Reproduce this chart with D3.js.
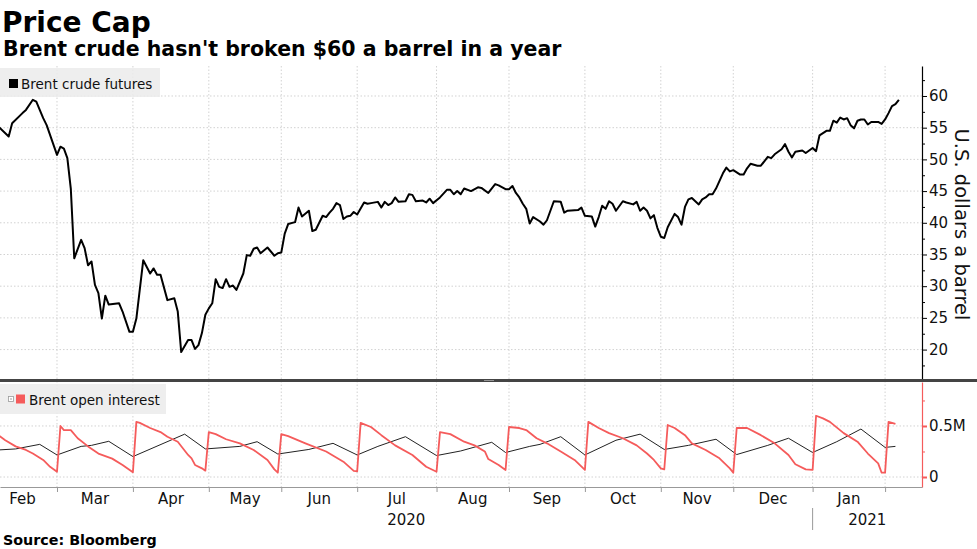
<!DOCTYPE html>
<html>
<head>
<meta charset="utf-8">
<script src="https://cdn.jsdelivr.net/npm/d3@7"></script>
<style>
  body { margin: 0; background: #fff; }
  svg { display: block; font-family: "DejaVu Sans", sans-serif; }
</style>
</head>
<body>
<div id="chart"></div>
<script>
// Brent crude futures, U.S. dollars a barrel
const brentPrice = [
  ["2020-02-06",55.2],["2020-02-11",53.6],["2020-02-12",55.7],["2020-02-17",57.3],["2020-02-18",57.8],
  ["2020-02-20",59.4],["2020-02-21",59.1],["2020-02-25",56.5],["2020-02-26",55.4],["2020-03-02",50.7],
  ["2020-03-03",52.0],["2020-03-04",51.7],["2020-03-05",50.2],["2020-03-06",45.4],["2020-03-09",34.4],
  ["2020-03-11",37.3],["2020-03-12",36.0],["2020-03-13",33.3],["2020-03-16",33.9],["2020-03-17",30.2],
  ["2020-03-18",28.9],["2020-03-19",24.9],["2020-03-20",28.5],["2020-03-23",27.1],["2020-03-26",27.3],
  ["2020-03-27",26.0],["2020-03-31",22.8],["2020-04-01",22.8],["2020-04-02",24.9],["2020-04-06",34.1],
  ["2020-04-08",32.0],["2020-04-09",32.8],["2020-04-10",31.8],["2020-04-13",31.8],["2020-04-15",27.8],
  ["2020-04-17",28.1],["2020-04-20",26.0],["2020-04-21",19.6],["2020-04-23",21.5],["2020-04-24",21.5],
  ["2020-04-27",20.1],["2020-04-28",20.7],["2020-04-29",22.6],["2020-04-30",25.5],["2020-05-01",26.5],
  ["2020-05-04",27.3],["2020-05-05",31.1],["2020-05-06",29.9],["2020-05-07",29.7],["2020-05-08",31.1],
  ["2020-05-11",29.9],["2020-05-12",30.1],["2020-05-13",29.4],["2020-05-15",32.0],["2020-05-18",34.9],
  ["2020-05-19",34.8],["2020-05-20",35.9],["2020-05-21",36.1],["2020-05-22",35.2],["2020-05-26",36.1],
  ["2020-05-28",34.8],["2020-05-29",35.2],["2020-06-01",35.3],["2020-06-02",38.3],["2020-06-03",39.8],
  ["2020-06-05",40.1],["2020-06-08",42.4],["2020-06-09",41.0],["2020-06-11",41.9],["2020-06-12",38.7],
  ["2020-06-15",38.9],["2020-06-17",41.1],["2020-06-18",40.9],["2020-06-19",41.6],["2020-06-22",42.2],
  ["2020-06-23",43.1],["2020-06-24",42.8],["2020-06-25",40.6],["2020-06-26",41.0],["2020-06-29",41.1],
  ["2020-06-30",41.7],["2020-07-01",41.3],["2020-07-03",43.2],["2020-07-06",43.0],["2020-07-07",43.1],
  ["2020-07-09",43.3],["2020-07-10",42.4],["2020-07-13",43.3],["2020-07-14",42.8],["2020-07-15",43.1],
  ["2020-07-16",44.0],["2020-07-17",43.3],["2020-07-21",43.4],["2020-07-22",44.5],["2020-07-23",44.4],
  ["2020-07-24",43.4],["2020-07-28",43.5],["2020-07-29",43.2],["2020-07-30",43.8],["2020-07-31",43.1],
  ["2020-08-04",44.0],["2020-08-06",45.2],["2020-08-07",45.2],["2020-08-10",44.5],["2020-08-11",45.0],
  ["2020-08-12",44.5],["2020-08-13",45.4],["2020-08-17",45.0],["2020-08-19",45.6],["2020-08-20",45.5],
  ["2020-08-24",44.7],["2020-08-26",46.1],["2020-08-27",45.9],["2020-08-31",45.3],["2020-09-01",45.3],
  ["2020-09-02",45.8],["2020-09-03",44.7],["2020-09-04",44.0],["2020-09-07",43.0],["2020-09-08",42.2],
  ["2020-09-09",39.9],["2020-09-10",40.9],["2020-09-14",40.2],["2020-09-15",39.7],["2020-09-16",40.4],
  ["2020-09-18",43.4],["2020-09-22",43.3],["2020-09-23",41.6],["2020-09-24",41.9],["2020-09-29",42.0],
  ["2020-09-30",42.4],["2020-10-01",41.1],["2020-10-05",41.0],["2020-10-06",39.4],["2020-10-07",40.9],
  ["2020-10-08",42.7],["2020-10-09",42.2],["2020-10-12",43.4],["2020-10-13",43.0],["2020-10-14",41.9],
  ["2020-10-16",43.4],["2020-10-19",43.2],["2020-10-21",42.9],["2020-10-22",43.3],["2020-10-23",41.9],
  ["2020-10-26",42.4],["2020-10-27",41.9],["2020-10-28",40.7],["2020-10-29",41.2],["2020-10-30",39.2],
  ["2020-11-02",37.8],["2020-11-03",37.6],["2020-11-04",39.3],["2020-11-06",41.4],["2020-11-09",40.9],
  ["2020-11-10",39.7],["2020-11-11",42.5],["2020-11-12",43.7],["2020-11-13",43.9],["2020-11-17",42.9],
  ["2020-11-18",43.7],["2020-11-19",44.0],["2020-11-20",44.5],["2020-11-23",44.5],["2020-11-24",45.4],
  ["2020-11-26",47.8],["2020-11-27",48.7],["2020-11-30",48.1],["2020-12-01",48.3],["2020-12-03",47.6],
  ["2020-12-04",47.6],["2020-12-07",48.6],["2020-12-08",49.3],["2020-12-10",49.0],["2020-12-11",49.0],
  ["2020-12-15",50.4],["2020-12-16",50.2],["2020-12-17",50.8],["2020-12-21",51.6],["2020-12-22",52.4],
  ["2020-12-23",51.2],["2020-12-24",50.3],["2020-12-25",51.2],["2020-12-29",51.4],["2020-12-30",51.0],
  ["2021-01-01",51.8],["2021-01-04",51.3],["2021-01-05",53.8],["2021-01-07",54.5],["2021-01-08",54.5],
  ["2021-01-11",56.1],["2021-01-12",55.8],["2021-01-13",56.6],["2021-01-14",56.3],["2021-01-15",56.5],
  ["2021-01-18",55.4],["2021-01-19",54.9],["2021-01-20",56.1],["2021-01-21",56.3],["2021-01-22",56.3],
  ["2021-01-25",55.5],["2021-01-26",55.9],["2021-01-28",55.9],["2021-01-29",55.6],["2021-02-01",56.3],
  ["2021-02-02",57.3],["2021-02-03",58.4],["2021-02-04",58.7],["2021-02-05",59.4]
];

// Brent open interest, front contract (millions)
const openInterest = [
  ["2020-02-06",0.41],["2020-02-10",0.36],["2020-02-13",0.30],["2020-02-18",0.265],["2020-02-20",0.23],
  ["2020-02-25",0.167],["2020-02-27",0.10],["2020-03-02",0.052],["2020-03-03",0.50],["2020-03-04",0.46],
  ["2020-03-06",0.46],["2020-03-10",0.38],["2020-03-13",0.30],["2020-03-18",0.23],["2020-03-24",0.18],
  ["2020-03-27",0.118],["2020-04-01",0.046],["2020-04-02",0.54],["2020-04-03",0.53],["2020-04-08",0.48],
  ["2020-04-13",0.44],["2020-04-15",0.395],["2020-04-20",0.346],["2020-04-23",0.216],["2020-04-24",0.183],
  ["2020-04-27",0.118],["2020-04-29",0.085],["2020-04-30",0.062],["2020-05-01",0.44],["2020-05-05",0.42],
  ["2020-05-08",0.37],["2020-05-14",0.33],["2020-05-20",0.265],["2020-05-26",0.167],["2020-05-28",0.075],
  ["2020-05-29",0.042],["2020-06-01",0.42],["2020-06-03",0.40],["2020-06-10",0.33],["2020-06-18",0.25],
  ["2020-06-25",0.15],["2020-06-30",0.06],["2020-07-01",0.055],["2020-07-02",0.53],["2020-07-07",0.49],
  ["2020-07-10",0.41],["2020-07-16",0.31],["2020-07-23",0.216],["2020-07-29",0.10],["2020-08-03",0.052],
  ["2020-08-04",0.44],["2020-08-07",0.42],["2020-08-13",0.346],["2020-08-18",0.31],["2020-08-21",0.25],
  ["2020-08-24",0.176],["2020-08-27",0.118],["2020-08-31",0.069],["2020-09-01",0.49],["2020-09-04",0.48],
  ["2020-09-08",0.46],["2020-09-11",0.38],["2020-09-16",0.33],["2020-09-22",0.25],["2020-09-28",0.167],
  ["2020-10-01",0.069],["2020-10-02",0.54],["2020-10-07",0.48],["2020-10-12",0.43],["2020-10-16",0.38],
  ["2020-10-22",0.31],["2020-10-27",0.23],["2020-10-29",0.167],["2020-11-02",0.085],["2020-11-03",0.074],
  ["2020-11-04",0.51],["2020-11-06",0.48],["2020-11-11",0.41],["2020-11-13",0.33],["2020-11-19",0.265],
  ["2020-11-25",0.183],["2020-11-30",0.085],["2020-12-01",0.042],["2020-12-02",0.48],["2020-12-07",0.48],
  ["2020-12-11",0.41],["2020-12-17",0.33],["2020-12-23",0.216],["2020-12-25",0.125],["2020-12-30",0.075],
  ["2021-01-01",0.069],["2021-01-04",0.60],["2021-01-06",0.575],["2021-01-08",0.54],["2021-01-14",0.43],
  ["2021-01-20",0.346],["2021-01-25",0.23],["2021-01-28",0.134],["2021-01-29",0.042],["2021-02-01",0.042],
  ["2021-02-02",0.54],["2021-02-04",0.52]
];

// second (unlabelled) open interest series, drawn as the thin black line (millions)
const openInterestNext = [
  ["2020-02-06",0.265],["2020-02-13",0.275],["2020-02-24",0.32],["2020-03-02",0.216],["2020-03-11",0.30],
  ["2020-03-16",0.31],["2020-03-23",0.35],["2020-04-01",0.20],["2020-04-22",0.42],["2020-04-30",0.275],
  ["2020-05-14",0.30],["2020-05-21",0.346],["2020-05-29",0.225],["2020-06-11",0.27],["2020-06-22",0.33],
  ["2020-07-01",0.216],["2020-07-09",0.30],["2020-07-21",0.395],["2020-08-03",0.21],["2020-08-12",0.255],
  ["2020-08-25",0.34],["2020-08-31",0.24],["2020-09-09",0.30],["2020-09-14",0.32],["2020-09-22",0.395],
  ["2020-10-01",0.216],["2020-10-14",0.36],["2020-10-23",0.42],["2020-11-03",0.27],["2020-11-12",0.31],
  ["2020-11-24",0.37],["2020-12-02",0.22],["2020-12-15",0.31],["2020-12-23",0.38],["2021-01-01",0.24],
  ["2021-01-12",0.346],["2021-01-21",0.47],["2021-02-01",0.29],["2021-02-04",0.30]
];

const priceTicks = [20, 25, 30, 35, 40, 45, 50, 55, 60];
const priceMinorTicks = [17.5, 22.5, 27.5, 32.5, 37.5, 42.5, 47.5, 52.5, 57.5, 62.5];
const oiTicks = [0, 0.5];
const oiTickLabels = ["0", "0.5M"];
const oiMinorTicks = [0.25, 0.75];
const monthStarts = ["2020-02-01","2020-03-01","2020-04-01","2020-05-01","2020-06-01","2020-07-01",
  "2020-08-01","2020-09-01","2020-10-01","2020-11-01","2020-12-01","2021-01-01","2021-02-01","2021-03-01"];
const monthLabels = ["Feb","Mar","Apr","May","Jun","Jul","Aug","Sep","Oct","Nov","Dec","Jan"];
const yearLabels = [{ year: "2020", from: "2020-02-01", to: "2021-01-01" },
                    { year: "2021", from: "2021-01-01", to: "2021-03-01" }];

const W = 977, H = 549;
const plotRight = 922;
const top1 = 66, bot1 = 379, top2 = 382, bot2 = 487;
const red = "#f55b5b";

const parse = d3.utcParse("%Y-%m-%d");
// the time axis counts weekdays only (weekends are squeezed out)
const base = Date.UTC(2020, 1, 3);
function tradingIndex(date) {
  const days = Math.round((date - base) / 864e5);
  const w = Math.floor(days / 7), r = days - w * 7;
  return w * 5 + Math.min(r, 5);
}
function firstWeekday(d) {
  let t = d;
  while (t.getUTCDay() === 0 || t.getUTCDay() === 6) t = d3.utcDay.offset(t, 1);
  return t;
}
const toPoints = arr => arr.map(([d, v]) => ({ i: tradingIndex(parse(d)), v }));

const x = d3.scaleLinear().domain([3.48, 270.7]).range([0, plotRight]);
const yPrice = d3.scaleLinear().domain([15.36, 64.73]).range([bot1, top1]);
const yOI = d3.scaleLinear().domain([-0.098, 0.931]).range([bot2, top2]);

const monthIdx = monthStarts.map(s => tradingIndex(firstWeekday(parse(s))));
const gridIdx = monthIdx.filter(i => x(i) > 1 && x(i) < plotRight - 1);

const svg = d3.select("#chart").append("svg")
  .attr("width", W)
  .attr("height", H);

// titles
svg.append("text").attr("x", 2).attr("y", 32)
  .style("font-size", "28px").style("font-weight", "bold").text("Price Cap");
svg.append("text").attr("x", 3).attr("y", 56)
  .style("font-size", "20.5px").style("font-weight", "bold")
  .text("Brent crude hasn't broken $60 a barrel in a year");
svg.append("text").attr("x", 3).attr("y", 545)
  .style("font-size", "14.3px").style("font-weight", "bold").text("Source: Bloomberg");

// grid
const grid = svg.append("g").attr("stroke", "#d2d2d2").attr("stroke-dasharray", "1.5,2");
grid.selectAll(".vgrid").data(gridIdx).join("line")
  .attr("x1", d => x(d)).attr("x2", d => x(d))
  .attr("y1", top1).attr("y2", bot2);
grid.selectAll(".hgrid").data(priceTicks).join("line")
  .attr("x1", 0).attr("x2", plotRight)
  .attr("y1", d => yPrice(d)).attr("y2", d => yPrice(d));
grid.selectAll(".hgrid2").data(oiTicks).join("line")
  .attr("x1", 0).attr("x2", plotRight)
  .attr("y1", d => yOI(d)).attr("y2", d => yOI(d));

// legends
svg.append("rect").attr("x", 0).attr("y", 68).attr("width", 160).attr("height", 29)
  .attr("fill", "#ebebeb").attr("opacity", 0.85);
svg.append("rect").attr("x", 9).attr("y", 79).attr("width", 9).attr("height", 9).attr("fill", "#000");
svg.append("text").attr("x", 21).attr("y", 88.5).style("font-size", "13.5px").attr("fill", "#111")
  .text("Brent crude futures");

svg.append("rect").attr("x", 0).attr("y", 384).attr("width", 166).attr("height", 30)
  .attr("fill", "#ebebeb").attr("opacity", 0.85);
svg.append("rect").attr("x", 8.5).attr("y", 396.5).attr("width", 5).attr("height", 5)
  .attr("fill", "#fff").attr("stroke", "#999").attr("stroke-width", 0.8);
svg.append("rect").attr("x", 10.3).attr("y", 398.3).attr("width", 1.4).attr("height", 1.4).attr("fill", "#999");
svg.append("rect").attr("x", 16).attr("y", 394.5).attr("width", 9).attr("height", 9).attr("fill", red);
svg.append("text").attr("x", 29).attr("y", 404.5).style("font-size", "13.5px").attr("fill", "#111")
  .text("Brent open interest");

// lines
const priceLine = d3.line().x(d => x(d.i)).y(d => yPrice(d.v));
const oiLine = d3.line().x(d => x(d.i)).y(d => yOI(d.v));

svg.append("path").datum(toPoints(openInterestNext))
  .attr("fill", "none").attr("stroke", "#222").attr("stroke-width", 1)
  .attr("d", oiLine);
svg.append("path").datum(toPoints(openInterest))
  .attr("fill", "none").attr("stroke", red).attr("stroke-width", 1.8)
  .attr("stroke-linejoin", "round").attr("d", oiLine);
svg.append("path").datum(toPoints(brentPrice))
  .attr("fill", "none").attr("stroke", "#000").attr("stroke-width", 2)
  .attr("stroke-linejoin", "round").attr("d", priceLine);

// right axes
function styleAxis(g, color) {
  g.select(".domain").attr("stroke", color).attr("stroke-width", 1.2);
  g.selectAll(".tick line").attr("stroke", color);
  g.selectAll(".tick text").attr("fill", "#111").style("font-size", "15px")
    .style("font-family", "DejaVu Sans, sans-serif");
}
const pAxis = svg.append("g").attr("transform", `translate(${plotRight},0)`)
  .call(d3.axisRight(yPrice).tickValues(priceTicks).tickSize(5).tickSizeOuter(0).tickPadding(2));
styleAxis(pAxis, "#000");
const pMinor = svg.append("g").attr("transform", `translate(${plotRight},0)`)
  .call(d3.axisRight(yPrice).tickValues(priceMinorTicks).tickSize(3).tickSizeOuter(0).tickFormat(""));
pMinor.select(".domain").remove();
pMinor.selectAll(".tick line").attr("stroke", "#000");

const oAxis = svg.append("g").attr("transform", `translate(${plotRight},0)`)
  .call(d3.axisRight(yOI).tickValues(oiTicks).tickSize(5).tickSizeOuter(0).tickPadding(2)
    .tickFormat((d, i) => oiTickLabels[i]));
styleAxis(oAxis, red);
oAxis.selectAll(".tick line").attr("stroke-width", 2);
const oMinor = svg.append("g").attr("transform", `translate(${plotRight},0)`)
  .call(d3.axisRight(yOI).tickValues(oiMinorTicks).tickSize(3).tickSizeOuter(0).tickFormat(""));
oMinor.select(".domain").remove();
oMinor.selectAll(".tick line").attr("stroke", red);

svg.append("text")
  .attr("transform", `translate(955,${(top1 + bot1) / 2 + 2}) rotate(90)`)
  .attr("text-anchor", "middle")
  .style("font-size", "19.5px").attr("fill", "#111")
  .text("U.S. dollars a barrel");

// bottom time axis
const xAxis = svg.append("g").attr("transform", `translate(0,${bot2})`)
  .call(d3.axisBottom(x).tickValues(monthIdx.filter(i => x(i) > 0 && x(i) < plotRight))
    .tickSize(5).tickSizeOuter(0).tickFormat(""));
xAxis.select(".domain").attr("stroke", "#999");
xAxis.selectAll(".tick line").attr("stroke", "#999");

svg.append("g").selectAll("text")
  .data(monthLabels)
  .join("text")
  .attr("x", (d, i) => (x(monthIdx[i]) + x(monthIdx[i + 1])) / 2)
  .attr("y", 504)
  .attr("text-anchor", "middle")
  .style("font-size", "15px").attr("fill", "#111")
  .text(d => d);

const yearG = svg.append("g");
yearLabels.forEach(yl => {
  const x0 = Math.max(0, x(tradingIndex(firstWeekday(parse(yl.from)))));
  const x1 = Math.min(plotRight, x(tradingIndex(firstWeekday(parse(yl.to)))));
  yearG.append("text").attr("x", (x0 + x1) / 2).attr("y", 525)
    .attr("text-anchor", "middle").style("font-size", "15px").attr("fill", "#111")
    .text(yl.year);
  if (x0 > 0) {
    yearG.append("line").attr("x1", x0).attr("x2", x0).attr("y1", 508).attr("y2", 530)
      .attr("stroke", "#999");
  }
});

// panel separator
svg.append("rect").attr("x", 0).attr("y", bot1).attr("width", W).attr("height", top2 - bot1)
  .attr("fill", "#444");
svg.append("rect").attr("x", 484).attr("y", bot1 + 1.2).attr("width", 10).attr("height", 0.8)
  .attr("fill", "#aaa");
</script>
</body>
</html>
